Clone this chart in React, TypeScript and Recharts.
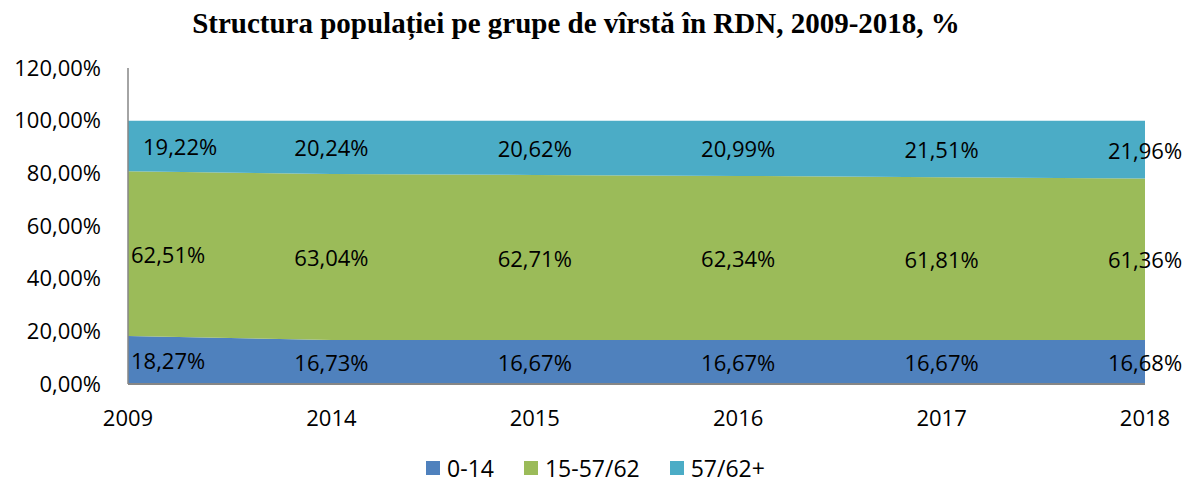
import { ComposedChart, Area, Line, XAxis, YAxis } from 'recharts';

const years = ['2009', '2014', '2015', '2016', '2017', '2018'];
const young = [18.27, 16.73, 16.67, 16.67, 16.67, 16.68];
const working = [62.51, 63.04, 62.71, 62.34, 61.81, 61.36];
const elderly = [19.22, 20.24, 20.62, 20.99, 21.51, 21.96];
const yTicks = [0, 20, 40, 60, 80, 100, 120];

const series = [
  { key: 'a', name: '0-14', values: young, color: '#4F81BD', firstDx: 3 },
  { key: 'b', name: '15-57/62', values: working, color: '#9BBB59', firstDx: 3 },
  { key: 'c', name: '57/62+', values: elderly, color: '#4BACC6', firstDx: 15 },
];

// stacked values + band midpoints (used only to place the labels)
const data = years.map((year, i) => {
  const row: Record<string, number | string> = { year };
  let base = 0;
  series.forEach((s) => {
    const v = s.values[i];
    row[s.key] = v;
    row[s.key + 'Mid'] = base + v / 2;
    base += v;
  });
  return row;
});

const font = '"Open Sans", sans-serif';
const pct = (v: number) => v.toFixed(2).replace('.', ',') + '%';

const makeLabel = (values: number[], firstDx: number) => (p: any) => {
  const first = p.index === 0;
  return (
    <text
      x={first ? p.x + firstDx : p.x}
      y={p.y}
      textAnchor={first ? 'start' : 'middle'}
      dominantBaseline="central"
      fontSize={22}
      fontFamily={font}
      fill="#000"
    >
      {pct(values[p.index])}
    </text>
  );
};

export default function App() {
  return (
    <div style={{ position: 'absolute', left: 0, top: 0, width: 1187, height: 490, background: '#fff', fontFamily: font }}>
      <div
        style={{
          position: 'absolute',
          left: 576,
          top: 7,
          transform: 'translateX(-50%)',
          whiteSpace: 'nowrap',
          fontFamily: '"Liberation Serif", "Times New Roman", serif',
          fontWeight: 'bold',
          fontSize: 29,
        }}
      >
        Structura populației pe grupe de vîrstă în RDN, 2009-2018, %
      </div>
      <ComposedChart width={1187} height={490} data={data} margin={{ top: 68, right: 42, left: 0, bottom: 0 }}>
        <XAxis
          dataKey="year"
          height={106}
          tickSize={0}
          tickMargin={26}
          axisLine={{ stroke: '#868686', strokeWidth: 2 }}
          tick={{ fill: '#000', fontSize: 22, fontFamily: font }}
          interval={0}
        />
        <YAxis
          width={128}
          domain={[0, 120]}
          ticks={yTicks}
          tickFormatter={pct}
          tickSize={0}
          tickMargin={27}
          axisLine={{ stroke: '#868686', strokeWidth: 1.5 }}
          tick={{ fill: '#000', fontSize: 22, fontFamily: font }}
        />
        {series.map((s) => (
          <Area
            key={s.key}
            type="linear"
            dataKey={s.key}
            stackId="1"
            stroke="none"
            fill={s.color}
            fillOpacity={1}
            isAnimationActive={false}
          />
        ))}
        {series.map((s) => (
          <Line
            key={s.key + 'Mid'}
            type="linear"
            dataKey={s.key + 'Mid'}
            stroke="none"
            dot={false}
            activeDot={false}
            label={makeLabel(s.values, s.firstDx)}
            isAnimationActive={false}
          />
        ))}
      </ComposedChart>
      <div
        style={{
          position: 'absolute',
          left: 4,
          right: 0,
          top: 452,
          display: 'flex',
          justifyContent: 'center',
          gap: 30,
          fontSize: 23,
        }}
      >
        {series.map((s) => (
          <div key={s.key} style={{ display: 'flex', alignItems: 'center' }}>
            <span style={{ width: 14, height: 14, background: s.color, display: 'inline-block', marginRight: 7 }} />
            <span>{s.name}</span>
          </div>
        ))}
      </div>
    </div>
  );
}
